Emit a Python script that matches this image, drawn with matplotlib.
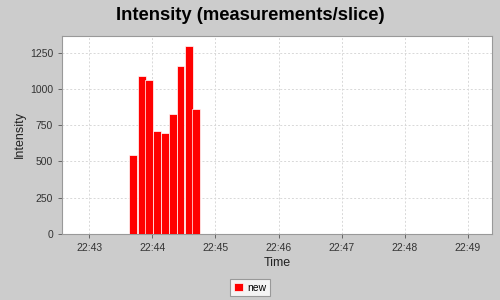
import matplotlib
matplotlib.use('Agg')
import matplotlib.pyplot as plt
import matplotlib.dates as mdates
from datetime import datetime, timedelta

# data
times = ['22:43:38', '22:43:46', '22:43:53', '22:44:01', '22:44:08',
         '22:44:16', '22:44:23', '22:44:31', '22:44:38']
intensity = [546, 1090, 1060, 712, 696, 825, 1155, 1298, 859]
series_name = 'new'

plt.rcParams['font.family'] = ['Liberation Sans', 'DejaVu Sans']

day = '2010-01-01 '
t = [datetime.strptime(day + s, '%Y-%m-%d %H:%M:%S') for s in times]
bar_w = timedelta(seconds=7.5)

fig = plt.figure(figsize=(5, 3), dpi=100, facecolor='#cccccc')
ax = fig.add_axes([0.124, 0.22, 0.86, 0.66])
ax.set_facecolor('white')

ax.bar(t, intensity, width=bar_w, align='edge', color='#ff0000',
       edgecolor='white', linewidth=0.5, label=series_name, zorder=3)

ax.set_xlim(datetime.strptime(day + '22:42:34', '%Y-%m-%d %H:%M:%S'),
            datetime.strptime(day + '22:49:23', '%Y-%m-%d %H:%M:%S'))
ax.set_ylim(0, 1365)
ax.set_yticks([0, 250, 500, 750, 1000, 1250])
ax.xaxis.set_major_locator(mdates.MinuteLocator())
ax.xaxis.set_major_formatter(mdates.DateFormatter('%H:%M'))

ax.grid(True, color='#d8d8d8', linestyle=(0, (2, 2)), linewidth=0.7, zorder=0)
for s in ax.spines.values():
    s.set_color('#999999')
    s.set_linewidth(0.8)
ax.tick_params(labelsize=7.5, colors='#555555', length=3, width=0.6)
for lab in ax.get_xticklabels() + ax.get_yticklabels():
    lab.set_color('#333333')

ax.set_xlabel('Time', fontsize=9, color='#222222', labelpad=3)
ax.set_ylabel('Intensity', fontsize=9, color='#222222')
ax.yaxis.set_label_coords(-0.084, 0.5)
fig.suptitle('Intensity (measurements/slice)', fontsize=13.2, fontweight='bold',
             y=0.975, x=0.5)

leg = fig.legend(loc='lower center', bbox_to_anchor=(0.5, -0.005), fontsize=7.5,
                 frameon=True, fancybox=False, handlelength=0.9, handleheight=0.9,
                 handletextpad=0.4, borderpad=0.35, edgecolor='#888888')
leg.get_frame().set_linewidth(0.8)

fig.savefig('out.png', dpi=100, facecolor=fig.get_facecolor())
